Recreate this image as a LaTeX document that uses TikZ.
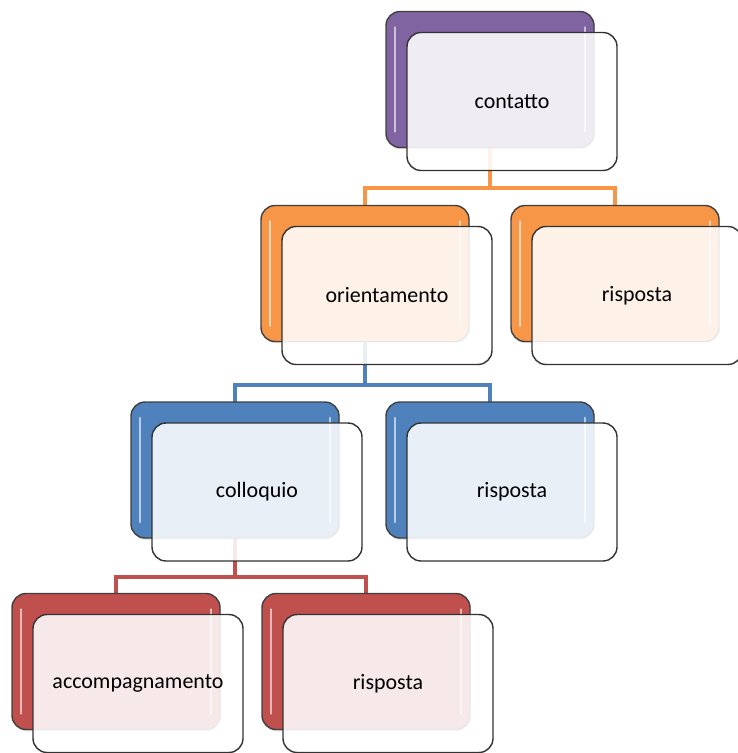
\documentclass[tikz,border=0pt]{standalone}
\usepackage{fontspec}
\setmainfont{Carlito}
\usetikzlibrary{shadows,backgrounds}

\definecolor{purp}{HTML}{8064A2}
\definecolor{oran}{HTML}{F79646}
\definecolor{blu}{HTML}{4F81BD}
\definecolor{rd}{HTML}{C0504D}

\begin{document}
\begin{tikzpicture}
        [x=0.02cm, y=-0.02cm,
        back/.style = {rectangle, rounded corners=0.28cm,
        minimum width=4.16cm, minimum height=2.72cm,
        draw=black!75, line width=0.8pt, outer sep=0pt,
        drop shadow={opacity=0.3, shadow xshift=0.5pt, shadow yshift=-1pt},
        path picture={
          \draw[white, opacity=0.6, line width=1.6pt, line cap=round]
            ([shift={(9,16)}]path picture bounding box.north west)
            -- ([shift={(9,-16)}]path picture bounding box.south west)
            ([shift={(-9,16)}]path picture bounding box.north east)
            -- ([shift={(-9,-16)}]path picture bounding box.south east);}},
        front/.style = {rectangle, rounded corners=0.28cm,
        minimum width=4.2cm, minimum height=2.76cm,
        draw=black!80, line width=0.8pt,
        fill=white, fill opacity=0.88, text opacity=1,
        font=\fontsize{12.5}{14}\selectfont},
        link/.style = {line width=2.2pt}]

        \useasboundingbox (0,0) rectangle (737,753);

        % Level 1
        \node[back, fill=purp] (C) at (490,79.5) {};
        \node[front] (Cf) at ([shift={(22,22)}]C) {contatto};

        % Level 2
        \node[back, fill=oran] (O) at (365,273.5) {};
        \node[front] (Of) at ([shift={(22,22)}]O) {orientamento};
        \node[back, fill=oran] (R1) at (615,273.5) {};
        \node[front] (R1f) at ([shift={(22,22)}]R1) {risposta};

        % Level 3
        \node[back, fill=blu] (Q) at (235,470) {};
        \node[front] (Qf) at ([shift={(22,22)}]Q) {colloquio};
        \node[back, fill=blu] (R2) at (490,470) {};
        \node[front] (R2f) at ([shift={(22,22)}]R2) {risposta};

        % Level 4
        \node[back, fill=rd] (A) at (116,661.5) {};
        \node[front] (Af) at ([shift={(22,22)}]A) {accompagnamento};
        \node[back, fill=rd] (R3) at (366,661.5) {};
        \node[front] (R3f) at ([shift={(22,22)}]R3) {risposta};

        % Connectors
        \coordinate (j1) at (490,188);
        \coordinate (j2) at (365,385);
        \coordinate (j3) at (235,577);
        \begin{scope}[on background layer]
            \draw[link, oran] (C.south) -- (j1) -| (O.north);
            \draw[link, oran] (j1) -| (R1.north);
            \draw[link, blu] (O.south) -- (j2) -| (Q.north);
            \draw[link, blu] (j2) -| (R2.north);
            \draw[link, rd] (Q.south) -- (j3) -| (A.north);
            \draw[link, rd] (j3) -| (R3.north);
        \end{scope}
\end{tikzpicture}
\end{document}
